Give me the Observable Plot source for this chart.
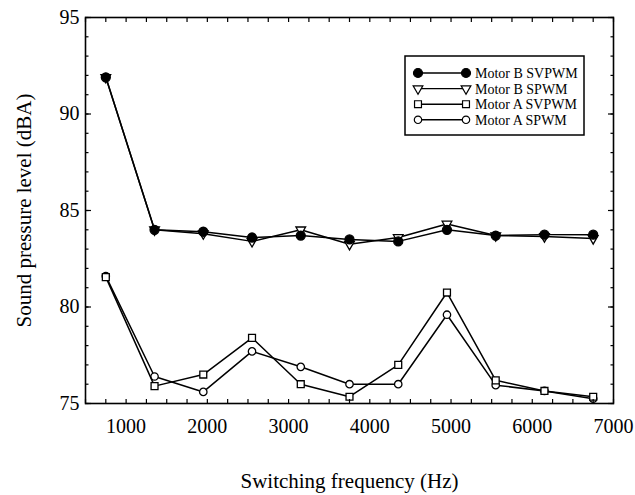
<!DOCTYPE html>
<html>
<head>
<meta charset="utf-8">
<script src="https://cdn.jsdelivr.net/npm/d3@7"></script>
<script src="https://cdn.jsdelivr.net/npm/@observablehq/plot@0.6"></script>
<style>
  html, body { margin: 0; padding: 0; background: #fff; }
  #chart { width: 635px; height: 495px; }
  #chart svg, #chart svg text { font-family: "Liberation Serif", "Times New Roman", serif !important; }
</style>
</head>
<body>
<div id="chart"></div>
<script>
// ---- data ----
const freq = [750, 1350, 1950, 2550, 3150, 3750, 4350, 4950, 5550, 6150, 6750];
const motorBSVPWM = [91.9, 84.0, 83.9, 83.6, 83.7, 83.5, 83.4, 84.0, 83.7, 83.75, 83.75];
const motorBSPWM  = [91.9, 84.0, 83.8, 83.4, 84.0, 83.25, 83.6, 84.3, 83.7, 83.65, 83.55];
const motorASVPWM = [81.55, 75.9, 76.5, 78.4, 76.0, 75.35, 77.0, 80.75, 76.2, 75.65, 75.35];
const motorASPWM  = [81.6, 76.4, 75.6, 77.7, 76.9, 76.0, 76.0, 79.6, 75.95, 75.65, 75.25];
const seriesNames = ["Motor B SVPWM", "Motor B SPWM", "Motor A SVPWM", "Motor A SPWM"];
const xTickLabels = [1000, 2000, 3000, 4000, 5000, 6000, 7000];
const yTickLabels = [75, 80, 85, 90, 95];
const xMinorTicks = d3.range(500, 7001, 250);
const yMinorTicks = d3.range(75, 96, 1);
const xTitle = "Switching frequency (Hz)";
const yTitle = "Sound pressure level (dBA)";

// marker style per series
const styles = {
  "Motor B SVPWM": {symbol: "circle", r: 4.5, fill: "black", rotate: 0},
  "Motor B SPWM":  {symbol: "triangle", r: 3.6, fill: "white", rotate: 180},
  "Motor A SVPWM": {symbol: "square", r: 3.9, fill: "white", rotate: 0},
  "Motor A SPWM":  {symbol: "circle", r: 3.7, fill: "white", rotate: 0}
};
const seriesValues = {
  "Motor B SVPWM": motorBSVPWM,
  "Motor B SPWM": motorBSPWM,
  "Motor A SVPWM": motorASVPWM,
  "Motor A SPWM": motorASPWM
};
const drawOrder = ["Motor A SPWM", "Motor A SVPWM", "Motor B SPWM", "Motor B SVPWM"];

const rows = [];
for (const s of seriesNames) {
  seriesValues[s].forEach((v, i) => rows.push({series: s, freq: freq[i], value: v}));
}

const font = "Liberation Serif, Times New Roman, serif";
const marks = [];

// data lines + markers
for (const s of drawOrder) {
  const st = styles[s];
  const d = rows.filter(r => r.series === s);
  marks.push(Plot.line(d, {x: "freq", y: "value", stroke: "black", strokeWidth: 1.5}));
  marks.push(Plot.dot(d, {x: "freq", y: "value", symbol: () => st.symbol, r: st.r, fill: st.fill,
    stroke: "black", strokeWidth: 1.3, rotate: st.rotate}));
}

// inward ticks on all four sides
marks.push(Plot.axisX(xMinorTicks, {anchor: "bottom", tickSize: -4, tickFormat: () => "", label: null, strokeWidth: 1.2}));
marks.push(Plot.axisX(xMinorTicks, {anchor: "top", tickSize: -4, tickFormat: () => "", label: null, strokeWidth: 1.2}));
marks.push(Plot.axisY(yMinorTicks, {anchor: "left", tickSize: -3.5, tickFormat: () => "", label: null, strokeWidth: 1.2}));
marks.push(Plot.axisY(yMinorTicks, {anchor: "right", tickSize: -3.5, tickFormat: () => "", label: null, strokeWidth: 1.2}));
marks.push(Plot.axisY(yTickLabels, {anchor: "left", tickSize: -6, tickFormat: () => "", label: null, strokeWidth: 1.2}));
marks.push(Plot.axisY(yTickLabels, {anchor: "right", tickSize: -6, tickFormat: () => "", label: null, strokeWidth: 1.2}));
// tick labels
marks.push(Plot.axisX(xTickLabels, {anchor: "bottom", tickSize: 0, tickPadding: 15, fontSize: 20, fontFamily: font, label: null, tickFormat: d => String(d)}));
marks.push(Plot.axisY(yTickLabels, {anchor: "left", tickSize: 0, tickPadding: 6, fontSize: 20, fontFamily: font, label: null, tickFormat: d => String(d)}));

// frame
marks.push(Plot.frame({stroke: "black", strokeWidth: 1.6}));

// axis titles
marks.push(Plot.text([xTitle], {text: d => d, frameAnchor: "bottom", dy: 78, fontSize: 21, fontFamily: font, lineAnchor: "middle", textAnchor: "middle", fill: "black"}));
marks.push(Plot.text([yTitle], {text: d => d, frameAnchor: "left", dx: -61, rotate: -90, fontSize: 21, fontFamily: font, lineAnchor: "middle", textAnchor: "middle", fill: "black"}));

const chart = Plot.plot({
  width: 635,
  height: 495,
  marginLeft: 85,
  marginRight: 22,
  marginTop: 17,
  marginBottom: 92,
  style: {fontFamily: font, background: "white", color: "black", overflow: "visible"},
  x: {domain: [500, 7000], axis: null},
  y: {domain: [75, 95], axis: null},
  marks
});

// legend (inside the plot, upper right)
const svg = d3.select(chart);
const lg = svg.append("g").attr("font-family", font).attr("text-anchor", "start");
lg.append("rect").attr("x", 405).attr("y", 56).attr("width", 179).attr("height", 79)
  .attr("fill", "white").attr("stroke", "black").attr("stroke-width", 1.5);
const symMap = {circle: d3.symbolCircle, triangle: d3.symbolTriangle, square: d3.symbolSquare};
seriesNames.forEach((s, i) => {
  const st = styles[s];
  const y = 73 + i * 15.6;
  lg.append("line").attr("x1", 418).attr("x2", 466).attr("y1", y).attr("y2", y)
    .attr("stroke", "black").attr("stroke-width", 1.4);
  for (const x of [418, 466]) {
    lg.append("path")
      .attr("d", d3.symbol(symMap[st.symbol], Math.PI * st.r * st.r)())
      .attr("transform", `translate(${x},${y}) rotate(${st.rotate})`)
      .attr("fill", st.fill).attr("stroke", "black").attr("stroke-width", 1.2);
  }
  lg.append("text").attr("x", 475).attr("y", y).attr("dy", "0.35em")
    .attr("text-anchor", "start").attr("font-size", 14).attr("fill", "black").text(s);
});

document.getElementById("chart").appendChild(chart);
</script>
</body>
</html>
